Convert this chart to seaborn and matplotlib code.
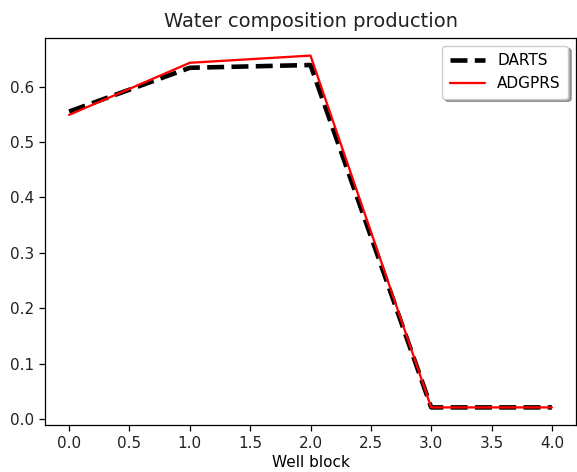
import matplotlib
matplotlib.use("Agg")
import matplotlib.pyplot as plt
import seaborn as sns
import pandas as pd

well_block = [0, 1, 2, 3, 4]
darts = [0.555, 0.634, 0.639, 0.021, 0.021]
adgprs = [0.549, 0.643, 0.656, 0.021, 0.021]

sns.set_style("white")
plt.rcParams['font.family'] = ['DejaVu Sans']
plt.rcParams['xtick.bottom'] = True
plt.rcParams['ytick.left'] = True
plt.rcParams['axes.edgecolor'] = 'black'
plt.rcParams['text.color'] = 'black'
plt.rcParams['axes.labelcolor'] = 'black'
plt.rcParams['xtick.color'] = 'black'
plt.rcParams['ytick.color'] = 'black'

fig = plt.figure(figsize=(5.77, 4.72), dpi=100)
ax = fig.add_axes([45/577, 1 - 425/472, 531/577, 387/472])

df = pd.DataFrame({"x": well_block, "DARTS": darts, "ADGPRS": adgprs})
sns.lineplot(data=df, x="x", y="DARTS", ax=ax, color="black", linestyle="--",
             linewidth=3.3, label="DARTS")
sns.lineplot(data=df, x="x", y="ADGPRS", ax=ax, color="red", linestyle="-",
             linewidth=1.65, label="ADGPRS")

ax.set_title("Water composition production", fontsize=14, pad=8, color='#222222')
ax.set_xlabel("Well block", fontsize=11, labelpad=3)
ax.set_ylabel("")
ax.tick_params(axis='both', labelsize=11, length=4, width=0.9, color='black',
               labelcolor='#222222', pad=4)
for s in ax.spines.values():
    s.set_linewidth(0.9)
    s.set_color('black')
ax.set_xticks([0, 0.5, 1, 1.5, 2, 2.5, 3, 3.5, 4])
ax.set_xlim(-0.2, 4.2)
ax.legend(loc="upper right", shadow=True, fancybox=True, fontsize=11,
          framealpha=1, edgecolor="0.8", handlelength=2.3, borderaxespad=0.5,
          borderpad=0.5)

fig.savefig("out.png", dpi=100)
